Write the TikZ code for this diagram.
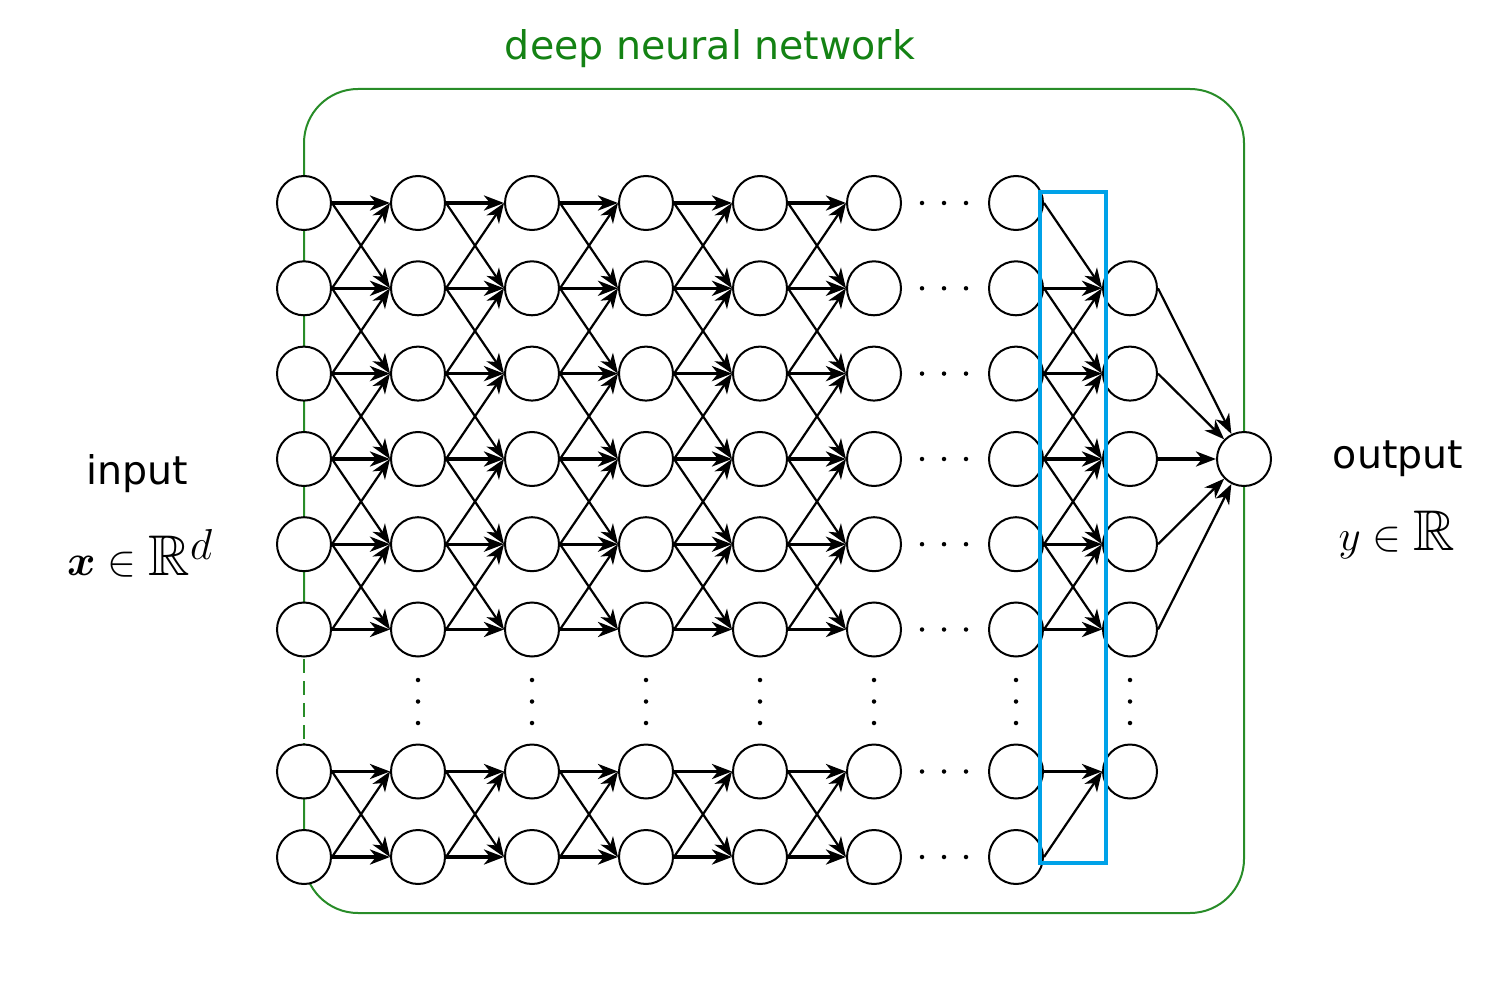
\documentclass[tikz,border=0pt]{standalone}
\usepackage{amsmath,amssymb}
\usepackage{graphicx}
\usepackage{fontspec}
\setmainfont{DejaVu Sans}
\usetikzlibrary{arrows.meta}
\definecolor{grn}{RGB}{40,140,40}
\definecolor{titlegrn}{RGB}{20,130,20}
\definecolor{hl}{RGB}{0,162,232}
\begin{document}
\begin{tikzpicture}[x=1pt,y=-1pt,
  neuron/.style={circle,draw,line width=2pt,fill=white,minimum size=54pt,inner sep=0pt},
  conn/.style={line width=2.2pt,-{Stealth[length=20pt,width=15pt,inset=6pt]}},
  hconn/.style={conn,line width=3.4pt},
  dotn/.style={circle,fill,inner sep=0pt,minimum size=4.5pt},
  frame/.style={draw=grn,line width=2pt},
  bigtext/.style={font=\fontsize{39.5}{46}\selectfont},
  mathtext/.style={font=\fontsize{33}{40}\selectfont}]
\useasboundingbox (0,0) rectangle (1505,995);
% frame
\draw[frame,rounded corners=54pt] (304,657) -- (304,89) -- (1244,89) -- (1244,913) -- (304,913) -- (304,743);
\draw[frame,dash pattern=on 14pt off 8pt] (304,659) -- (304,743);
% neurons
\foreach \c/\x in {1/304,2/418,3/532,4/646,5/760,6/874,7/1016}{
  \foreach \r/\y in {1/203,2/288.3,3/373.6,4/459,5/544.2,6/629.5,7/771.5,8/857}{
    \node[neuron] (c\c-\r) at (\x,\y) {};
  }
}
\foreach \r/\y in {2/288.3,3/373.6,4/459,5/544.2,6/629.5,7/771.5}{
  \node[neuron] (c8-\r) at (1130,\y) {};
}
\node[neuron] (out) at (1244,459) {};
% connections between full layers
\foreach \c [evaluate=\c as \n using int(\c+1)] in {1,...,5}{
  \foreach \r in {1,...,8}{
    \draw[hconn] (c\c-\r.east) -- (c\n-\r.west);
  }
  \foreach \r [evaluate=\r as \s using int(\r+1)] in {1,...,5,7}{
    \draw[conn] (c\c-\r.east) -- (c\n-\s.west);
    \draw[conn] (c\c-\s.east) -- (c\n-\r.west);
  }
}
% layer 7 -> layer 8
\foreach \r [evaluate=\r as \p using int(\r-1)] in {2,...,6}{
  \draw[hconn] (c7-\r.east) -- (c8-\r.west);
  \draw[conn] (c7-\p.east) -- (c8-\r.west);
}
\foreach \r [evaluate=\r as \s using int(\r+1)] in {2,...,5}{
  \draw[conn] (c7-\s.east) -- (c8-\r.west);
}
\draw[hconn] (c7-7.east) -- (c8-7.west);
\draw[conn] (c7-8.east) -- (c8-7.west);
% layer 8 -> output
\foreach \r in {2,3,5,6}{
  \draw[conn] (c8-\r.east) -- (out);
}
\draw[hconn] (c8-4.east) -- (out.west);
% horizontal dots
\foreach \r/\y in {1/203,2/288.3,3/373.6,4/459,5/544.2,6/629.5,7/771.5,8/857}{
  \foreach \k/\x in {1/922,2/944,3/966}{
    \node[dotn] (hd\r-\k) at (\x,\y) {};
  }
}
% vertical dots
\foreach \c/\x in {2/418,3/532,4/646,5/760,6/874,7/1016,8/1130}{
  \foreach \k/\y in {1/680,2/701.5,3/723}{
    \node[dotn] (vd\c-\k) at (\x,\y) {};
  }
}
% highlight box
\draw[hl,line width=4.5pt] (1040,192) rectangle (1106,863);
% labels
\node[bigtext,text=titlegrn] (title) at (710,49) {deep neural network};
\node[bigtext] (inlabel) at (137,474) {input};
\node[mathtext] (inmath) at (140,553) {\scalebox{1.74}{$\boldsymbol{x}\in\mathbb{R}^d$}};
\node[bigtext] (outlabel) at (1398,459) {output};
\node[mathtext] (outmath) at (1397,535) {\scalebox{1.74}{$y\in\mathbb{R}$}};
\end{tikzpicture}
\end{document}
